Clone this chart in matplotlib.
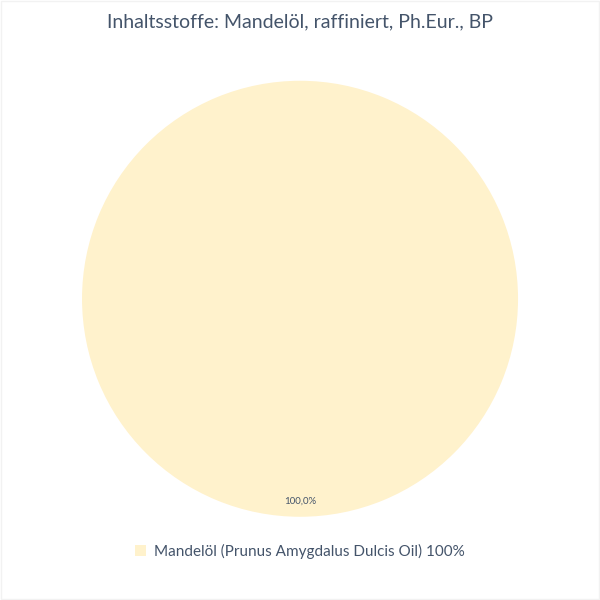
import matplotlib
matplotlib.use("Agg")
import matplotlib.pyplot as plt
from matplotlib.patches import Rectangle

title = "Inhaltsstoffe: Mandelöl, raffiniert, Ph.Eur., BP"
categories = ["Mandelöl (Prunus Amygdalus Dulcis Oil) 100%"]
values = [100.0]
colors = ["#FFF2CC"]

text_color = "#44546A"
plt.rcParams['font.family'] = ['Lato', 'DejaVu Sans']

fig = plt.figure(figsize=(6, 6), dpi=100)
fig.patch.set_facecolor("white")

ax = fig.add_axes([0.5 - 0.3633, 0.502 - 0.3633, 0.7267, 0.7267])
wedges, texts, autotexts = ax.pie(
    values, colors=colors, startangle=90, counterclock=False,
    autopct=lambda p: f"{p:.1f}".replace(".", ",") + "%",
    pctdistance=0.93, wedgeprops=dict(linewidth=0),
    textprops=dict(color=text_color, fontsize=7))
ax.set_xlim(-1, 1)
ax.set_ylim(-1, 1)
ax.set_aspect("equal")
ax.axis("off")

fig.text(0.5, 1 - 22 / 600, title, ha="center", va="center",
         fontsize=14, color=text_color)

fig.legend(wedges, categories, loc="center", bbox_to_anchor=(0.5, 1 - 551 / 600),
           frameon=False, fontsize=11, labelcolor=text_color,
           handlelength=0.7, handleheight=0.7, handletextpad=0.5)

fig.add_artist(Rectangle((0.002, 0.002), 0.996, 0.996, transform=fig.transFigure,
                         fill=False, edgecolor="#F2F2F2", linewidth=1))

fig.savefig("out.png", dpi=100)
